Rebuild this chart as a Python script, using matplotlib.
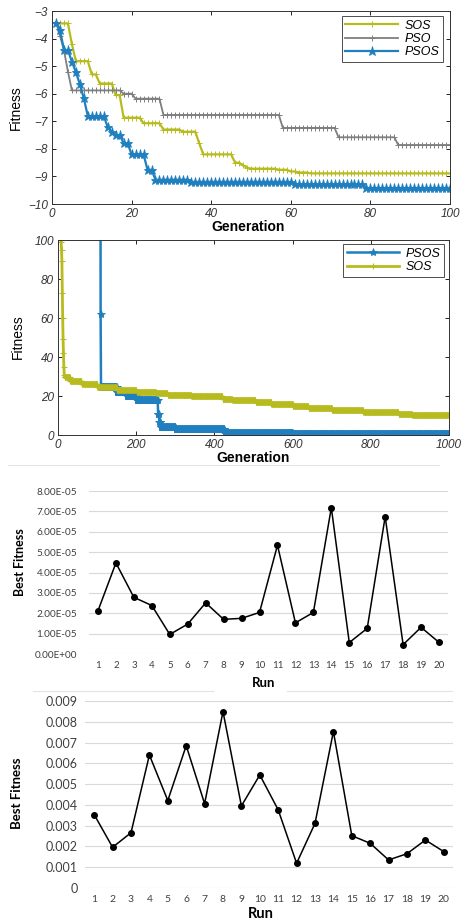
import numpy as np
import matplotlib
matplotlib.use("Agg")
import matplotlib.pyplot as plt
from matplotlib.lines import Line2D

# ---------------- data ----------------
# panel 1: 100 generations, step levels + how many generations each lasts
sos1_levels = [-3.45, -4.2, -4.82, -5.3, -5.63, -6.05, -6.87, -7.07, -7.3, -7.38, -7.8,
               -8.2, -8.5, -8.6, -8.68, -8.72, -8.76, -8.82, -8.86, -8.89]
sos1_runs = [4, 1, 4, 2, 4, 2, 5, 5, 5, 4, 1, 8, 2, 1, 1, 7, 3, 2, 3, 36]

pso1_levels = [-3.4, -3.9, -4.42, -5.2, -5.88, -6.0, -6.18, -6.77, -7.24, -7.58, -7.86]
pso1_runs = [1, 1, 1, 1, 13, 3, 7, 30, 14, 15, 14]

psos1_levels = [-3.42, -3.69, -4.40, -4.42, -4.84, -5.21, -5.66, -6.17, -6.81, -7.21, -7.39,
                -7.5, -7.8, -8.2, -8.76, -9.12, -9.2, -9.28, -9.42]
psos1_runs = [1, 1, 1, 1, 1, 1, 1, 1, 5, 1, 1, 2, 2, 4, 2, 9, 26, 18, 22]

# panel 2: 1000 generations
sos2_levels = [160, 140, 125, 115, 108, 104, 101, 99, 95, 89, 73, 60, 49, 42, 35, 31,
               29.5, 27.5, 26, 24.5, 23, 22, 21.5, 20.5, 19.8, 18.7, 17.8, 17.0,
               15.7, 15.0, 13.8, 12.7, 11.6, 11.0, 10.3]
sos2_runs = [1, 1, 1, 1, 1, 1, 1, 1, 1, 1, 1, 1, 1, 1, 1, 1,
             14, 30, 40, 50, 50, 50, 30, 60, 80, 25, 60, 40,
             55, 40, 60, 80, 90, 35, 95]

psos2_levels = [300, 62, 24.5, 22, 20, 17.8, 11, 6.5, 4, 3, 0.8, 0.5]
psos2_runs = [108, 1, 41, 25, 25, 55, 3, 4, 38, 125, 175, 400]

# panels 3 and 4: best fitness of 20 runs
runs = list(range(1, 21))
best_a = [2.12e-5, 4.47e-5, 2.78e-5, 2.38e-5, 0.96e-5, 1.47e-5, 2.51e-5, 1.70e-5, 1.75e-5, 2.04e-5,
          5.34e-5, 1.53e-5, 2.04e-5, 7.18e-5, 0.56e-5, 1.26e-5, 6.74e-5, 0.46e-5, 1.31e-5, 0.57e-5]
best_b = [0.00353, 0.00196, 0.00266, 0.00640, 0.00421, 0.00685, 0.00406, 0.00849, 0.00395, 0.00544,
          0.00376, 0.00119, 0.00311, 0.00753, 0.00252, 0.00215, 0.00135, 0.00165, 0.00231, 0.00175]

sos1 = np.repeat(sos1_levels, sos1_runs)
pso1 = np.repeat(pso1_levels, pso1_runs)
psos1 = np.repeat(psos1_levels, psos1_runs)
gen1 = np.arange(1, len(sos1) + 1)

sos2 = np.repeat(sos2_levels, sos2_runs)
psos2 = np.repeat(psos2_levels, psos2_runs)
gen2 = np.arange(1, len(sos2) + 1)

c_sos = "#b8bb1e"
c_pso = "#7f7f7f"
c_psos = "#1f7fbf"

W, H = 462, 922
fig = plt.figure(figsize=(W / 100, H / 100), dpi=100)


def box(l, t, r, b):
    return [l / W, 1 - b / H, (r - l) / W, (b - t) / H]


mat_font = "Liberation Sans"
xl_font = "Lato"


def matlab_axes(ax):
    ax.tick_params(direction="in", top=True, right=True, length=3, width=0.6, pad=3)
    for lab in ax.get_xticklabels() + ax.get_yticklabels():
        lab.set_fontfamily(mat_font)
        lab.set_fontstyle("italic")
        lab.set_fontsize(8.5)
        lab.set_color("#333333")
    for s in ax.spines.values():
        s.set_linewidth(0.7)
        s.set_color("#333333")


leg_kw = dict(loc="upper right", fancybox=False, edgecolor="#222222", borderaxespad=0,
              borderpad=0.3, labelspacing=0.1, handlelength=4.2, handletextpad=0.5,
              prop={"family": mat_font, "style": "italic", "size": 9}, numpoints=1)

# ---------------- panel 1 ----------------
ax1 = fig.add_axes(box(52, 11, 450, 204))
ax1.plot(gen1, sos1, color=c_sos, lw=1.6, marker="+", ms=4, mew=0.7, label="SOS")
ax1.plot(gen1, pso1, color=c_pso, lw=1.3, marker="+", ms=4, mew=0.7, label="PSO")
ax1.plot(gen1, psos1, color=c_psos, lw=1.6, marker="*", ms=6.5, mew=0.6, label="PSOS")
ax1.set_xlim(0, 100)
ax1.set_ylim(-10, -3)
ax1.set_xticks(range(0, 101, 20))
ax1.set_yticks(range(-10, -2))
matlab_axes(ax1)
leg = ax1.legend(bbox_to_anchor=(0.982, 0.974), **leg_kw)
leg.get_frame().set_linewidth(0.7)
fig.text(16 / W, 1 - 108 / H, "Fitness", rotation=90, ha="center", va="center",
         family=mat_font, fontsize=10)
fig.text(248 / W, 1 - 227 / H, "Generation", ha="center", va="center",
         family=mat_font, fontsize=10, weight="bold")

# ---------------- panel 2 ----------------
ax2 = fig.add_axes(box(58, 240, 449, 435))
ax2.plot(gen2, psos2, color=c_psos, lw=1.8, marker="*", ms=6, mew=0.6, label="PSOS")
ax2.plot(gen2, sos2, color=c_sos, lw=2.0, marker="+", ms=4.5, mew=0.8, label="SOS")
ax2.set_xlim(0, 1000)
ax2.set_ylim(0, 100)
ax2.set_xticks(range(0, 1001, 200))
ax2.set_yticks(range(0, 101, 20))
matlab_axes(ax2)
leg2 = ax2.legend(bbox_to_anchor=(0.987, 0.979), **leg_kw)
leg2.get_frame().set_linewidth(0.7)
fig.text(18 / W, 1 - 337 / H, "Fitness", rotation=90, ha="center", va="center",
         family=mat_font, fontsize=10)
fig.text(253 / W, 1 - 458 / H, "Generation", ha="center", va="center",
         family=mat_font, fontsize=10, weight="bold")


# ---------------- panels 3 and 4 (excel style) ----------------
def excel_axes(ax, ytick_fmt, ysize, ypad, xsize):
    for s in ax.spines.values():
        s.set_visible(False)
    ax.grid(axis="y", color="#d9d9d9", lw=0.8)
    ax.set_axisbelow(True)
    ax.tick_params(length=0, pad=5)
    ax.tick_params(axis="y", pad=ypad)
    ax.set_xlim(0.5, 20.5)
    ax.set_xticks(runs)
    ax.set_xticklabels([str(r) for r in runs], family=xl_font, fontsize=xsize, color="#404040")
    ax.set_yticklabels([ytick_fmt(v) for v in ax.get_yticks()], family=xl_font,
                       fontsize=ysize, color="#404040")


ax3 = fig.add_axes(box(89, 491, 448, 654))
ax3.plot(runs, best_a, color="black", lw=1.1, marker="o", ms=4)
ax3.set_ylim(0, 8e-5)
ax3.set_yticks(np.arange(9) * 1e-5)
excel_axes(ax3, lambda v: f"{v:.2E}", 7.2, 8.5, 7)
fig.text(20 / W, 1 - 562 / H, "Best Fitness", rotation=90, ha="center", va="center",
         family=xl_font, fontsize=9, weight="bold")
fig.text(264 / W, 1 - 683 / H, "Run", ha="center", va="center",
         family=xl_font, fontsize=9.5, weight="bold")

ax4 = fig.add_axes(box(85, 701, 453, 888))
ax4.plot(runs, best_b, color="black", lw=1.1, marker="o", ms=4)
ax4.set_ylim(0, 0.009)
ax4.set_yticks(np.arange(10) * 0.001)
excel_axes(ax4, lambda v: "0" if v == 0 else f"{v:.3f}", 9, 5, 7.5)
fig.text(17 / W, 1 - 793 / H, "Best Fitness", rotation=90, ha="center", va="center",
         family=xl_font, fontsize=9.5, weight="bold")
fig.text(261 / W, 1 - 914 / H, "Run", ha="center", va="center",
         family=xl_font, fontsize=10.5, weight="bold")

# faint chart borders between the excel charts
fig.add_artist(Line2D([8 / W, 439 / W], [1 - 465 / H] * 2, color="#e3e3e3", lw=0.8))
fig.add_artist(Line2D([33 / W, 213 / W], [1 - 691 / H] * 2, color="#e3e3e3", lw=0.8))
fig.add_artist(Line2D([287 / W, 452 / W], [1 - 691 / H] * 2, color="#e3e3e3", lw=0.8))

fig.savefig("out.png", dpi=100)
